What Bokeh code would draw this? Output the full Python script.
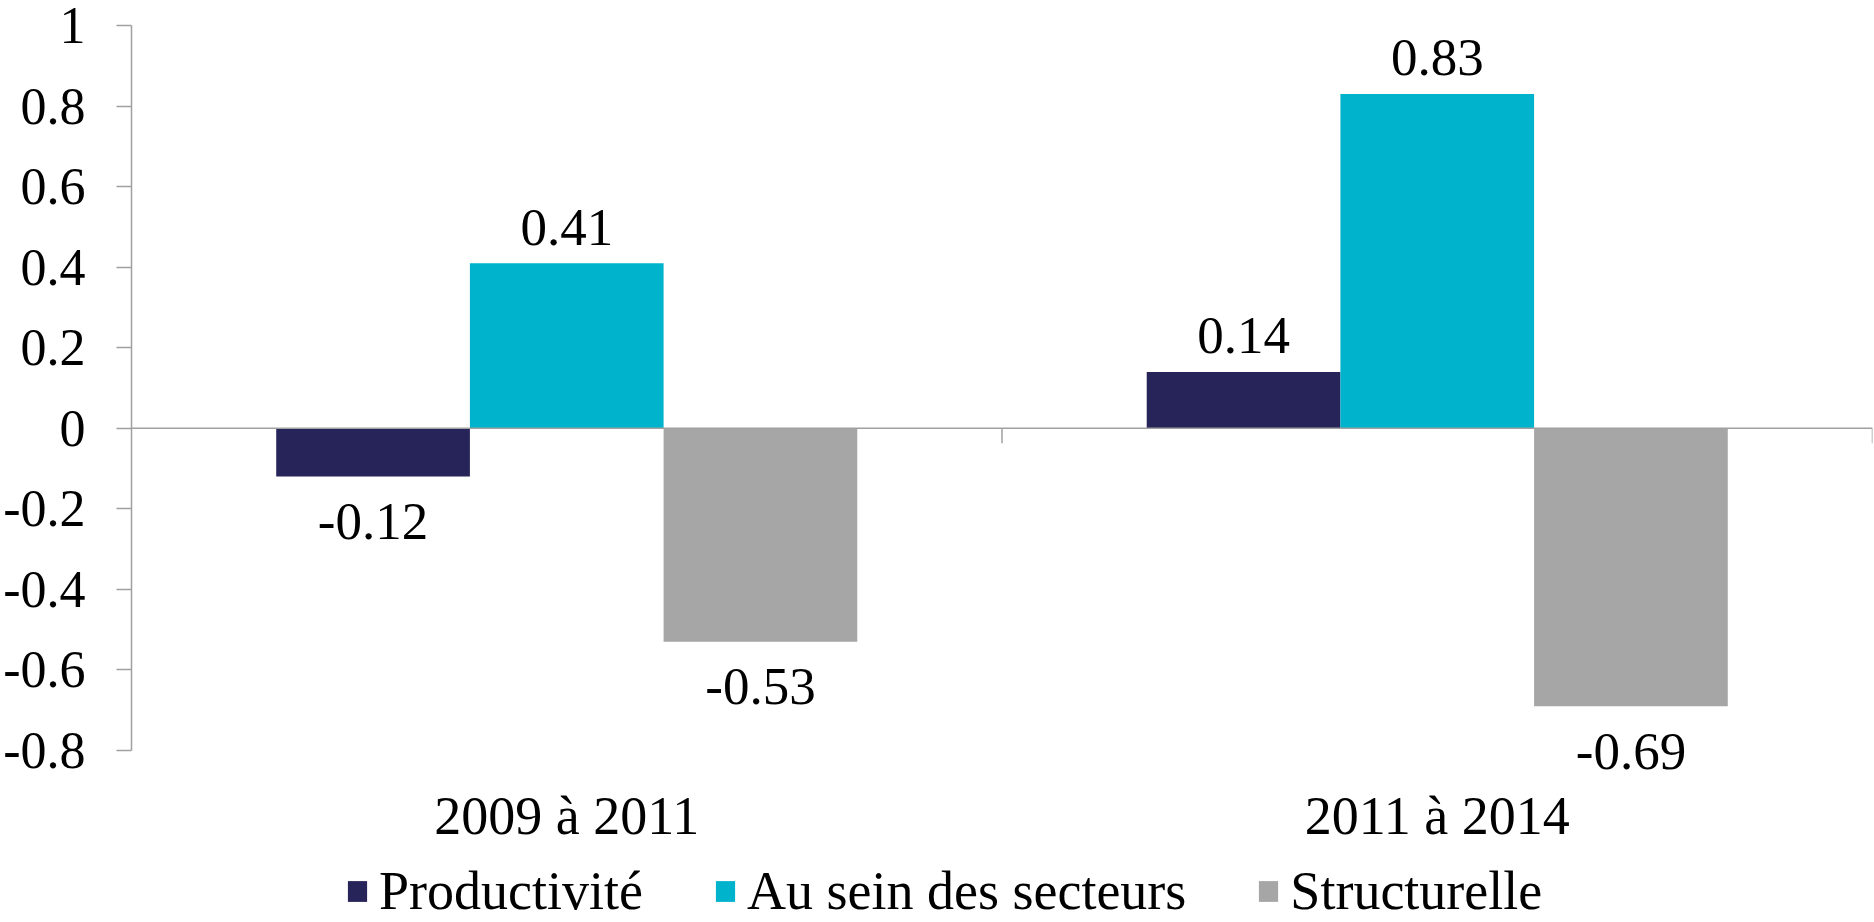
from bokeh.plotting import figure
from bokeh.models import Range1d, FixedTicker, Span, Legend, LegendItem, ColumnDataSource
from bokeh.core.properties import value
from bokeh.embed import file_html
from bokeh.resources import INLINE

periods = ["2009 à 2011", "2011 à 2014"]
series = ["Productivité", "Au sein des secteurs", "Structurelle"]
productivite = [-0.12, 0.14]
au_sein = [0.41, 0.83]
structurelle = [-0.53, -0.69]
colors = ["#27245A", "#00B3CD", "#A6A6A6"]
y_ticks = [-0.8, -0.6, -0.4, -0.2, 0, 0.2, 0.4, 0.6, 0.8, 1]
y_tick_labels = ["-0.8", "-0.6", "-0.4", "-0.2", "0", "0.2", "0.4", "0.6", "0.8", "1"]

FONT = "Liberation Serif"
AXIS_GREY = "#A0A0A0"
BAR_W = 0.2225

W, H = 1874, 922
TOP, LEFT, RIGHT = 25, 128, 2
AXIS_PX = 725  # pixel length of the value axis (-0.8 .. 1)
y_min, y_max = y_ticks[0], y_ticks[-1]
px_per_unit = AXIS_PX / (y_max - y_min)
y_start = y_min - (H - TOP - AXIS_PX) / px_per_unit  # extra room below the axis for labels/legend

p = figure(width=W, height=H, x_range=Range1d(0, len(periods)), y_range=Range1d(y_start, y_max),
           output_backend="svg", toolbar_location=None,
           min_border_left=LEFT, min_border_right=RIGHT, min_border_top=TOP, min_border_bottom=0)
p.outline_line_color = None
p.xgrid.grid_line_color = None
p.ygrid.grid_line_color = None
p.background_fill_color = "white"
p.border_fill_color = "white"
p.xaxis.visible = False

# Y axis
p.yaxis.bounds = (y_min, y_max)
p.yaxis.ticker = FixedTicker(ticks=y_ticks)
p.yaxis.major_label_overrides = {t: l for t, l in zip(y_ticks, y_tick_labels)}
p.yaxis.axis_line_color = AXIS_GREY
p.yaxis.axis_line_width = 1.5
p.yaxis.major_tick_line_color = AXIS_GREY
p.yaxis.major_tick_line_width = 1.5
p.yaxis.major_tick_out = 15
p.yaxis.major_tick_in = 0
p.yaxis.minor_tick_line_color = None
p.yaxis.major_label_standoff = 31
p.yaxis.major_label_text_font = FONT
p.yaxis.major_label_text_font_size = "52px"
p.yaxis.major_label_text_color = "black"

centers = [i + 0.5 for i in range(len(periods))]

renderers = []
for k, (name, vals, col) in enumerate(zip(series, [productivite, au_sein, structurelle], colors)):
    xs = [c + (k - 1) * BAR_W for c in centers]
    src = ColumnDataSource(dict(
        x=xs, top=vals,
        label=[f"{v:.2f}" for v in vals],
        yoff=[-36 if v >= 0 else 45 for v in vals],
    ))
    r = p.vbar(x="x", top="top", bottom=0, width=BAR_W, source=src, fill_color=col, line_color=None)
    renderers.append(r)
    p.text(x="x", y="top", text="label", source=src, text_align="center",
           text_baseline="alphabetic", y_offset="yoff",
           text_font=value(FONT), text_font_size="53px", text_color="black")

# category labels under the value axis
cat_src = ColumnDataSource(dict(x=centers, y=[y_min] * len(centers), text=periods))
p.text(x="x", y="y", text="text", source=cat_src, text_align="center", text_baseline="alphabetic",
       y_offset=65, text_font=value(FONT), text_font_size="54px", text_color="black")

# zero line
p.add_layout(Span(location=0, dimension="width", line_color=AXIS_GREY, line_width=1.5))
# category boundary ticks on zero line
bounds = list(range(1, len(periods) + 1))
p.segment(x0=bounds, y0=[0] * len(bounds), x1=bounds, y1=[-15 / px_per_unit] * len(bounds),
          line_color=AXIS_GREY, line_width=1.5)

legend = Legend(items=[LegendItem(label=s, renderers=[r]) for s, r in zip(series, renderers)],
                orientation="horizontal", location=(214, 0))
legend.label_text_font = FONT
legend.label_text_font_size = "54px"
legend.label_text_color = "black"
legend.glyph_width = 24
legend.glyph_height = 26
legend.label_standoff = 10
legend.spacing = 70
legend.padding = 0
legend.margin = 0
legend.border_line_color = None
legend.background_fill_alpha = 0
p.add_layout(legend)

open("out.html", "w").write(file_html(p, INLINE))
